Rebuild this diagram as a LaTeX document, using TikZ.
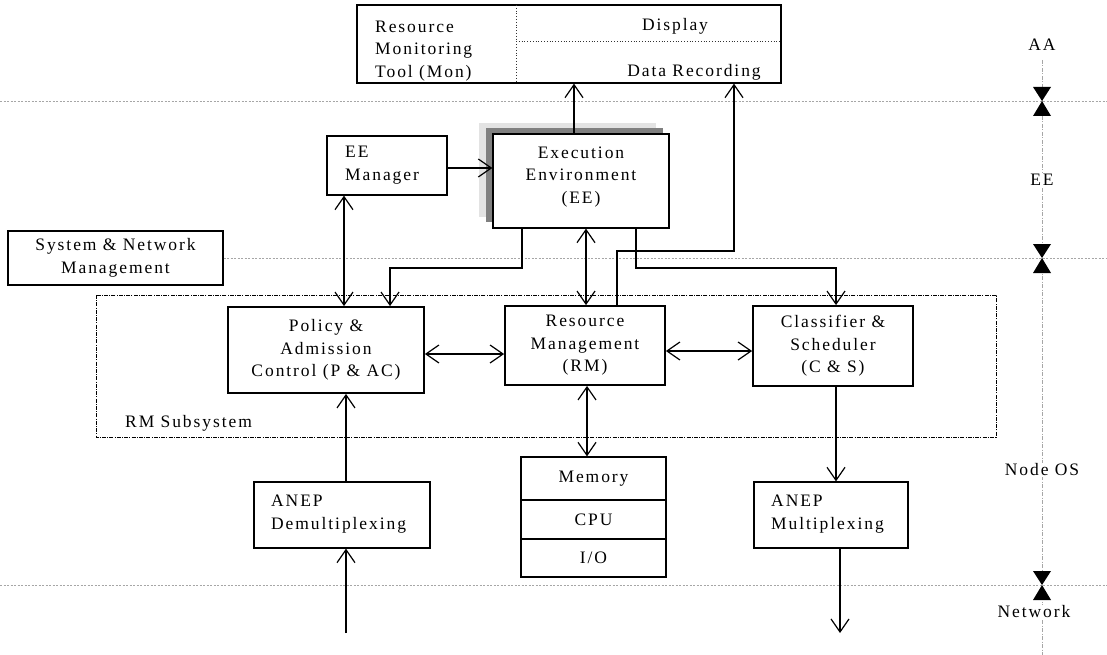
\documentclass[tikz,border=0pt]{standalone}
\usepackage{fontspec}
\setmainfont{Liberation Serif}[LetterSpace=11]
\usetikzlibrary{arrows.meta}
\tikzset{
  box/.style={draw, line width=1.3pt, fill=white, inner sep=2pt, align=center},
  tbox/.style={box, line width=1.8pt},
  lbl/.style={inner sep=1pt, align=center},
  ar/.style={line width=1.2pt, -{Straight Barb[length=13pt,width=18pt,line width=1.2pt]}},
  dar/.style={line width=1.2pt, {Straight Barb[length=13pt,width=18pt,line width=1.2pt]}-{Straight Barb[length=13pt,width=18pt,line width=1.2pt]}},
  layer/.style={gray!70, line width=0.8pt, dash pattern=on 2pt off 1.5pt},
  axis/.style={gray!70, line width=0.8pt, dash pattern=on 4pt off 1.5pt on 1pt off 1.5pt},
  sub/.style={line width=0.8pt, dash pattern=on 4pt off 1.2pt on 1pt off 1.2pt},
  divider/.style={line width=0.8pt, gray!40!black, dotted},
}
\newcommand\layermark[1]{%
  \fill (1033,#1-14) -- (1051,#1-14) -- (1042,#1) -- cycle;
  \fill (1042,#1) -- (1033,#1+15) -- (1051,#1+15) -- cycle;}
\begin{document}
\begin{tikzpicture}[x=1pt,y=-1pt,font=\fontsize{17.5}{22.5}\selectfont]
\useasboundingbox (0,0) rectangle (1107,655);
% layer lines
\draw[layer] (0,101) -- (1107,101);
\draw[layer] (0,585) -- (1107,585);
% right axis
\draw[axis] (1042,60) -- (1042,655);
\node[lbl, fill=white] (aa) at (1042,45) {AA};
\node[lbl, fill=white] (eel) at (1042,180) {EE};
\node[lbl, fill=white] (nos) at (1042,470) {Node OS};
\node[lbl, fill=white] (net) at (1034,612) {Network};
\layermark{101}
\layermark{258}
\layermark{585}
% monitoring tool
\node[box, minimum width=424pt, minimum height=78pt] (mon) at (569,44) {};
\draw[divider] (516,5) -- (516,83);
\draw[divider] (516,41) -- (781,41);
\node[lbl, anchor=west, align=left] (monl) at (374,51) {Resource\\Monitoring\\Tool (Mon)};
\node[lbl, anchor=base] (disp) at (675,31) {Display};
\node[lbl, anchor=base] (rec) at (694,77) {Data Recording};
% EE with shadows
\fill[gray!22] (479,123) rectangle (656,217);
\fill[gray!100] (486,128) rectangle (663,222);
\node[box, minimum width=176pt, minimum height=94pt] (ee) at (581,181) {};
\node[lbl] (eet) at (581,177) {Execution\\Environment\\(EE)};
\node[box, minimum width=120pt, minimum height=59pt] (eem) at (387,165.5) {};
\node[lbl, anchor=west, align=left] (eemt) at (344,165) {EE\\Manager};
% system & network management
\node[box, minimum width=215pt, minimum height=54pt] (snm) at (115.5,258) {System \& Network\\Management};
\draw[layer] (snm.east) -- (1107,258);
% RM subsystem
\draw[sub] (96,295) rectangle (996,437);
\node[lbl, anchor=base west] (rmsl) at (124,427) {RM Subsystem};
\node[tbox, minimum width=196pt, minimum height=86pt] (pac) at (326,350) {Policy \&\\Admission\\Control (P \& AC)};
\node[tbox, minimum width=160pt, minimum height=79pt] (rm) at (585,345.5) {Resource\\Management\\(RM)};
\node[tbox, minimum width=160pt, minimum height=80pt] (cs) at (833,346) {Classifier \&\\Scheduler\\(C \& S)};
% memory stack
\node[box, minimum width=145pt, minimum height=43pt] (mem) at (593.5,478.5) {Memory};
\node[box, minimum width=145pt, minimum height=39pt] (cpu) at (593.5,519.5) {CPU};
\node[box, minimum width=145pt, minimum height=38pt] (io) at (593.5,558) {I/O};
% ANEP
\node[box, minimum width=176pt, minimum height=66pt] (demux) at (342,515) {};
\node[lbl, anchor=west, align=left] (demuxt) at (270,514) {ANEP\\Demultiplexing};
\node[box, minimum width=154pt, minimum height=66pt] (mux) at (831,515) {};
\node[lbl, anchor=west, align=left] (muxt) at (770,514) {ANEP\\Multiplexing};
% connectors
\coordinate (a1) at ([xshift=-7pt]ee.north);
\draw[ar] (a1) -- (a1 |- mon.south);
\coordinate (r1) at ([xshift=32pt]rm.north);
\coordinate (r2) at (734,251);
\draw[ar] (r1) |- (r2) -- (r2 |- mon.south);
\draw[ar] (eem.east |- 0,168) -- (ee.west |- 0,168);
\coordinate (m1) at ([xshift=-43pt]eem.south);
\draw[dar] (m1) -- (m1 |- pac.north);
\coordinate (e1) at ([xshift=-59pt]ee.south);
\coordinate (e2) at (390,268);
\draw[ar] (e1) |- (e2) -- (e2 |- pac.north);
\coordinate (e3) at ([xshift=5pt]ee.south);
\draw[dar] (e3) -- (e3 |- rm.north);
\coordinate (e4) at ([xshift=55pt]ee.south);
\coordinate (e5) at (836,268);
\draw[ar] (e4) |- (e5) -- (e5 |- cs.north);
\coordinate (h1) at (0,354);
\draw[dar] (pac.east |- h1) -- (rm.west |- h1);
\coordinate (h2) at (0,351);
\draw[dar] (rm.east |- h2) -- (cs.west |- h2);
\coordinate (r3) at ([xshift=2pt]rm.south);
\draw[dar] (r3) -- (r3 |- mem.north);
\coordinate (d1) at ([xshift=4pt]demux.north);
\draw[ar] (d1) -- (d1 |- pac.south);
\coordinate (nin) at (346,633);
\draw[ar] (nin) -- (nin |- demux.south);
\coordinate (c1) at ([xshift=3pt]cs.south);
\draw[ar] (c1) -- (c1 |- mux.north);
\coordinate (nout) at (840,633);
\draw[ar] (nout |- mux.south) -- (nout);
\end{tikzpicture}
\end{document}
